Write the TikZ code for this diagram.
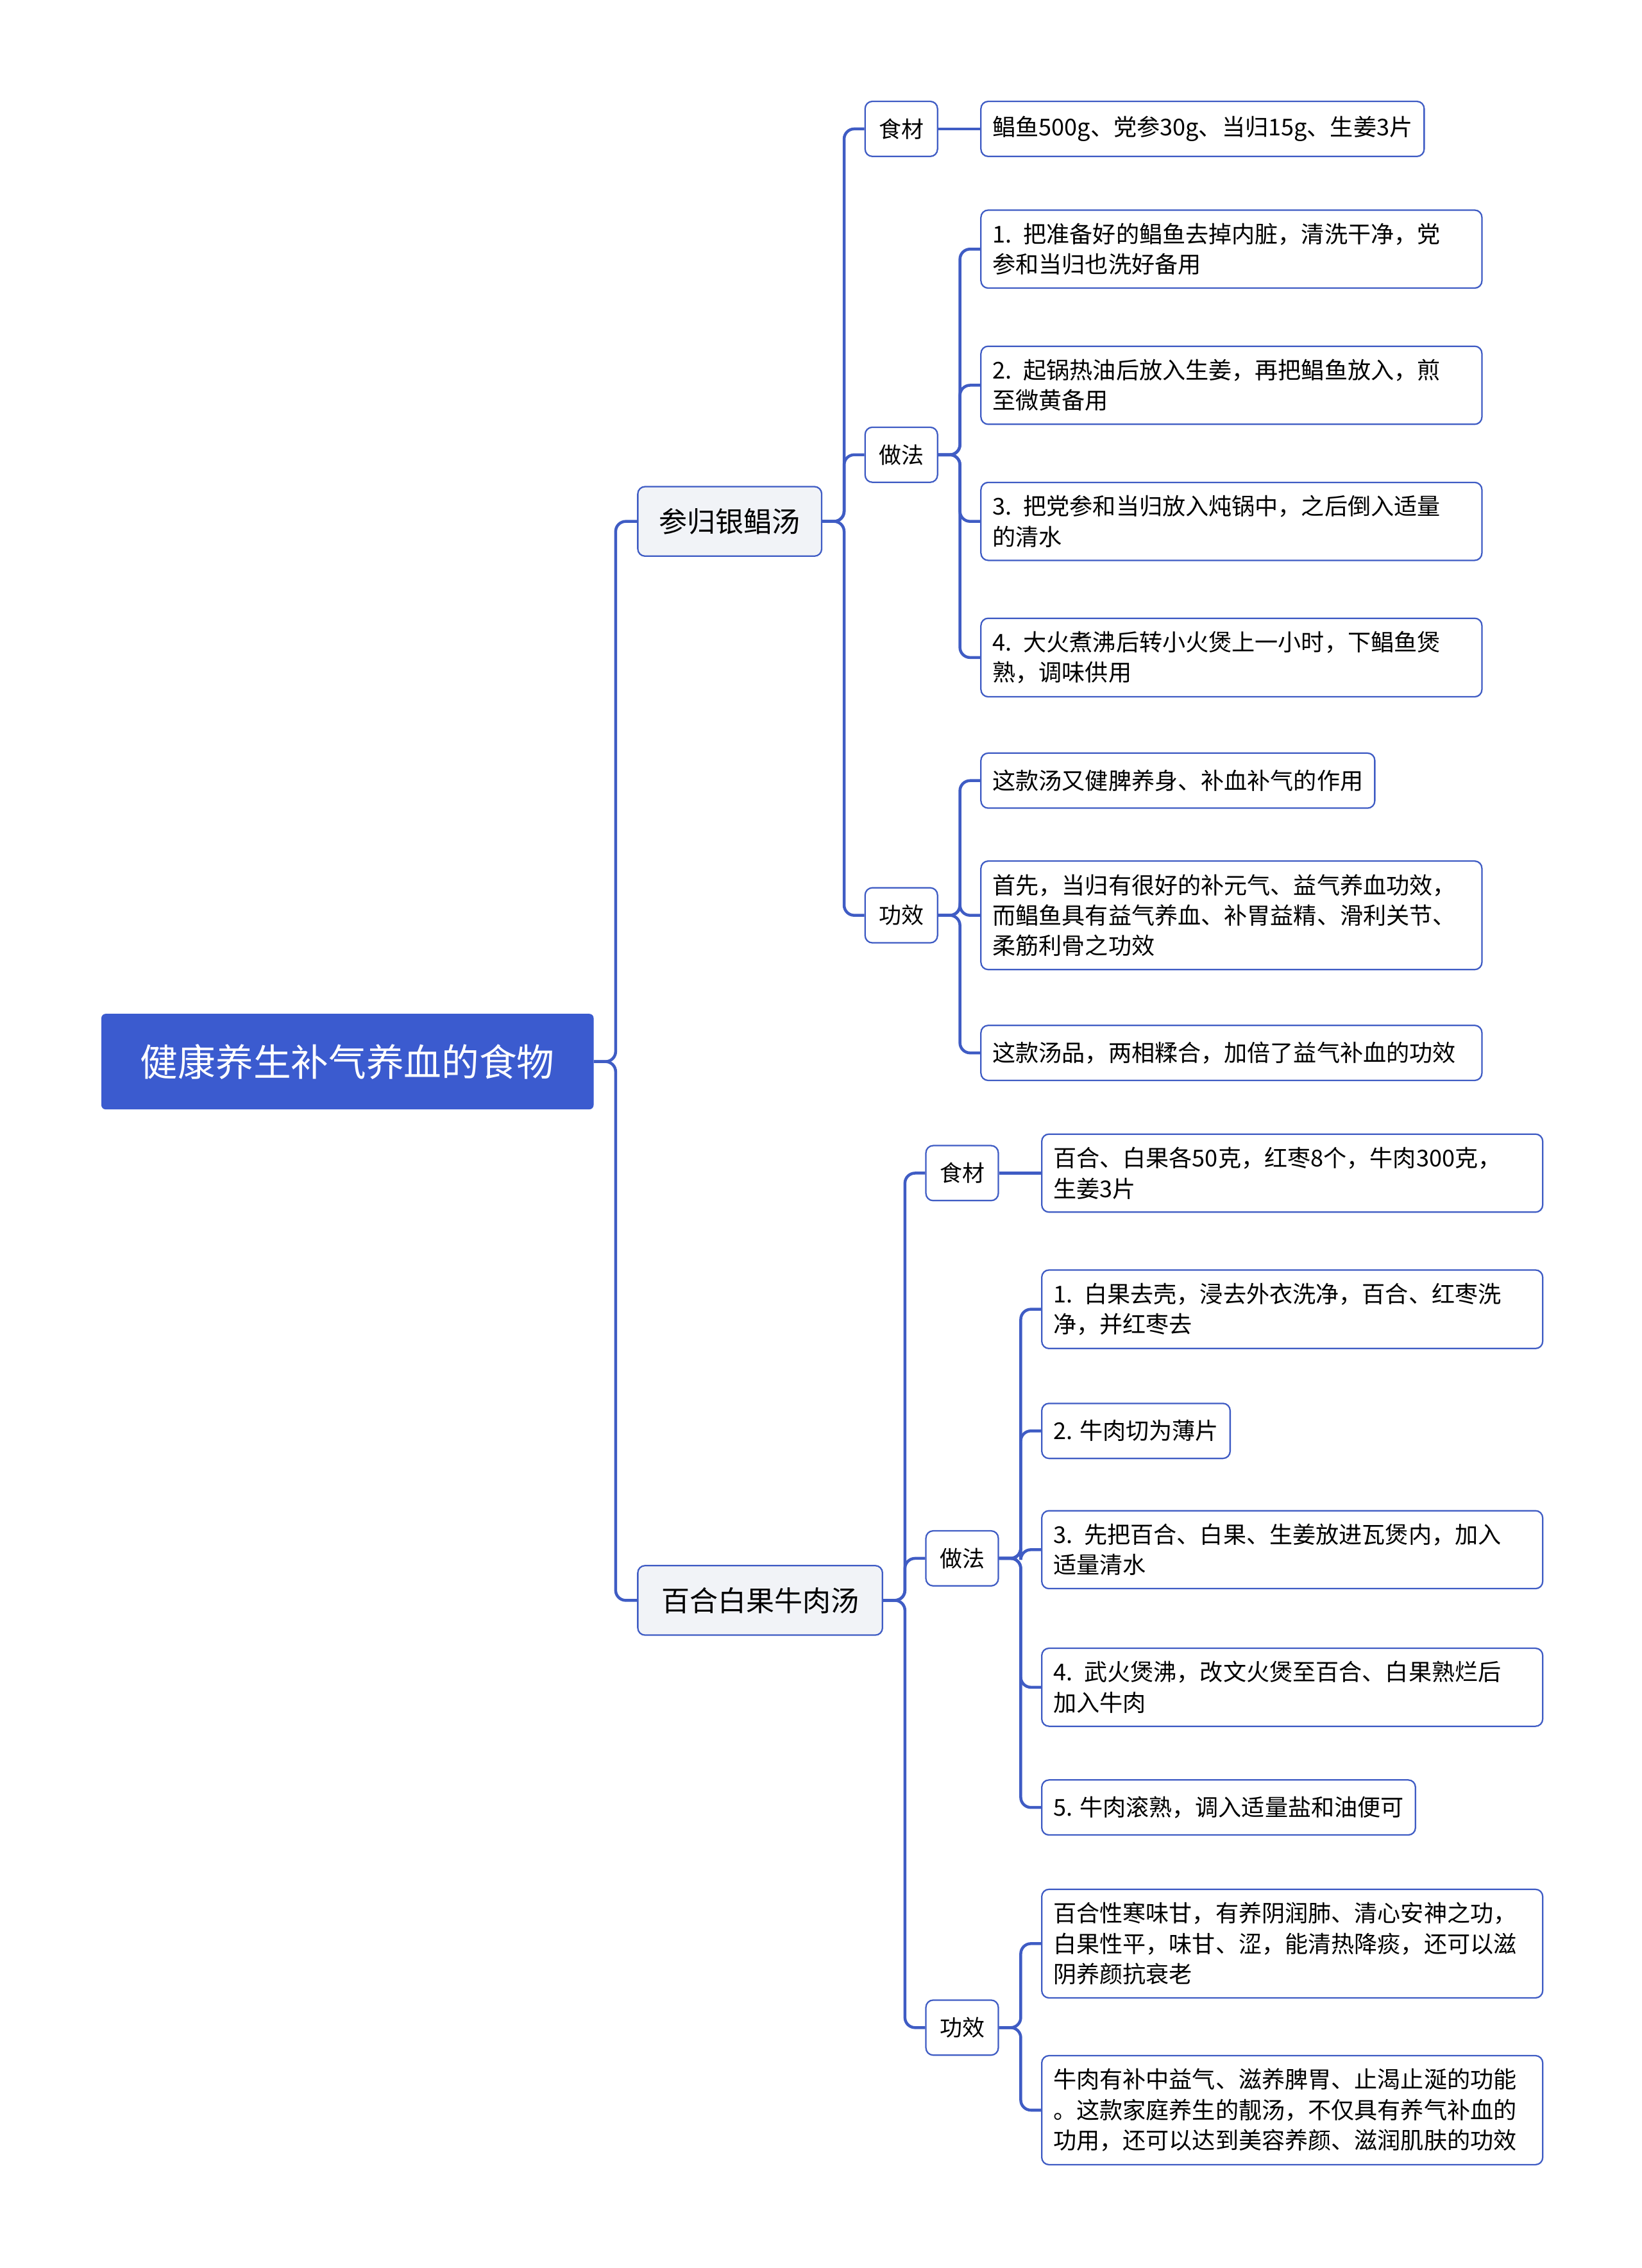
\documentclass[tikz,border=0pt]{standalone}
\usepackage{fontspec}
\setmainfont{Noto Sans CJK SC}
\begin{document}
\begin{tikzpicture}[x=1pt,y=-1pt,
  root/.style={fill=rootc,text=white,rounded corners=3,minimum height=66,minimum width=340,font=\fontsize{26}{30}\selectfont},
  lone/.style={fill=lonec,draw=bordc,line width=1pt,rounded corners=5,minimum height=48,inner xsep=10,font=\fontsize{19.5}{24}\selectfont,anchor=west},
  ltwo/.style={fill=white,draw=bordc,line width=1pt,rounded corners=5,minimum height=38,minimum width=50,inner xsep=8,font=\fontsize{15.5}{20}\selectfont,anchor=west},
  leaf/.style={fill=white,draw=bordc,line width=1pt,rounded corners=5,minimum height=38,inner xsep=8,inner ysep=9,align=left,font=\fontsize{16}{21}\selectfont,anchor=west},
  wide/.style={leaf,text width=330},
  conn/.style={draw=linec,line width=2pt,rounded corners=7}]
\definecolor{rootc}{HTML}{3B5BCF}
\definecolor{lonec}{HTML}{F1F3F7}
\definecolor{bordc}{HTML}{3F5CC4}
\definecolor{linec}{HTML}{3F5CC4}
\useasboundingbox (0,0) rectangle (1134,1566);
\node[root] (r) at (240,733) {健康养生补气养血的食物};
\node[lone,minimum width=127] (a) at (440,360) {参归银鲳汤};
\node[lone,minimum width=169] (b) at (440,1105) {百合白果牛肉汤};
\node[ltwo] (a1) at (597,89) {食材};
\node[ltwo] (a2) at (597,314) {做法};
\node[ltwo] (a3) at (597,632) {功效};
\node[ltwo] (b1) at (639,810) {食材};
\node[ltwo] (b2) at (639,1076) {做法};
\node[ltwo] (b3) at (639,1400) {功效};
\node[leaf] (a11) at (677,89) {鲳鱼500g、党参30g、当归15g、生姜3片};
\node[wide] (a21) at (677,172) {1. 把准备好的鲳鱼去掉内脏，清洗干净，党\\参和当归也洗好备用};
\node[wide] (a22) at (677,266) {2. 起锅热油后放入生姜，再把鲳鱼放入，煎\\至微黄备用};
\node[wide] (a23) at (677,360) {3. 把党参和当归放入炖锅中，之后倒入适量\\的清水};
\node[wide] (a24) at (677,454) {4. 大火煮沸后转小火煲上一小时，下鲳鱼煲\\熟，调味供用};
\node[leaf] (a31) at (677,539) {这款汤又健脾养身、补血补气的作用};
\node[wide] (a32) at (677,632) {首先，当归有很好的补元气、益气养血功效，\\而鲳鱼具有益气养血、补胃益精、滑利关节、\\柔筋利骨之功效};
\node[wide] (a33) at (677,727) {这款汤品，两相糅合，加倍了益气补血的功效};
\node[wide] (b11) at (719,810) {百合、白果各50克，红枣8个，牛肉300克，\\生姜3片};
\node[wide] (b21) at (719,904) {1. 白果去壳，浸去外衣洗净，百合、红枣洗\\净，并红枣去};
\node[leaf] (b22) at (719,988) {2. 牛肉切为薄片};
\node[wide] (b23) at (719,1070) {3. 先把百合、白果、生姜放进瓦煲内，加入\\适量清水};
\node[wide] (b24) at (719,1165) {4. 武火煲沸，改文火煲至百合、白果熟烂后\\加入牛肉};
\node[leaf] (b25) at (719,1248) {5. 牛肉滚熟，调入适量盐和油便可};
\node[wide] (b31) at (719,1342) {百合性寒味甘，有养阴润肺、清心安神之功，\\白果性平，味甘、涩，能清热降痰，还可以滋\\阴养颜抗衰老};
\node[wide] (b32) at (719,1457) {牛肉有补中益气、滋养脾胃、止渴止涎的功能\\。这款家庭养生的靓汤，不仅具有养气补血的\\功用，还可以达到美容养颜、滋润肌肤的功效};
\foreach \p/\c in {r/a,r/b,a/a1,a/a2,a/a3,b/b1,b/b2,b/b3,a2/a21,a2/a22,a2/a23,a2/a24,a3/a31,a3/a32,a3/a33,b2/b21,b2/b22,b2/b23,b2/b24,b2/b25,b3/b31,b3/b32}
  \draw[conn] (\p.east) -- ++(15,0) |- (\c.west);
\draw[conn] (a1.east) -- (a11.west);
\draw[conn] (b1.east) -- (b11.west);
\end{tikzpicture}
\end{document}
